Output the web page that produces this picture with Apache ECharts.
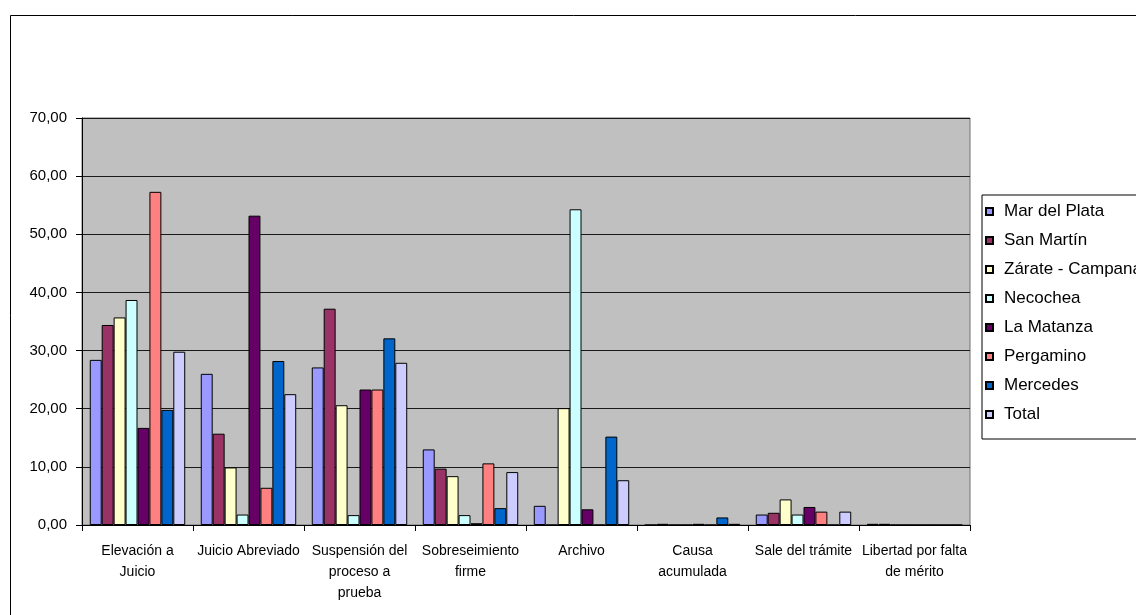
<!DOCTYPE html>
<html>
<head>
<meta charset="utf-8">
<script src="https://cdn.jsdelivr.net/npm/echarts@6/dist/echarts.min.js"></script>
<style>
  html, body { margin: 0; padding: 0; background: #fff; }
  #chart { width: 1136px; height: 615px; }
</style>
</head>
<body>
<div id="chart"></div>
<script>
// Categories (resolution type) and percentage per judicial department
const categories = [
  'Elevación a\nJuicio',
  'Juicio Abreviado',
  'Suspensión del\nproceso a\nprueba',
  'Sobreseimiento\nfirme',
  'Archivo',
  'Causa\nacumulada',
  'Sale del trámite',
  'Libertad por falta\nde mérito'
];
const seriesNames = ['Mar del Plata', 'San Martín', 'Zárate - Campana', 'Necochea', 'La Matanza', 'Pergamino', 'Mercedes', 'Total'];
const seriesColors = ['#9999FF', '#993366', '#FFFFCC', '#CCFFFF', '#660066', '#FF8080', '#0066CC', '#CCCCFF'];

const marDelPlata = [28.4, 26.0, 27.1, 13.0, 3.3, 0, 1.8, 0.2];
const sanMartin   = [34.4, 15.7, 37.2, 9.7, 0, 0.2, 2.1, 0.2];
const zarate      = [35.7, 9.9, 20.6, 8.4, 20.1, 0, 4.4, 0];
const necochea    = [38.7, 1.8, 1.7, 1.7, 54.3, 0, 1.8, 0];
const laMatanza   = [16.7, 53.2, 23.3, 0.3, 2.7, 0.2, 3.1, 0];
const pergamino   = [57.3, 6.4, 23.3, 10.6, 0, 0, 2.3, 0];
const mercedes    = [19.8, 28.2, 32.1, 2.9, 15.2, 1.3, 0, 0];
const total       = [29.8, 22.5, 27.9, 9.1, 7.7, 0.2, 2.3, 0];

const yTicks = { min: 0, max: 70, interval: 10 };

const seriesData = [marDelPlata, sanMartin, zarate, necochea, laMatanza, pergamino, mercedes, total];
const font = 'Arial, "Liberation Sans", sans-serif';

const chart = echarts.init(document.getElementById('chart'), null, { renderer: 'canvas' });

chart.setOption({
  animation: false,
  backgroundColor: '#ffffff',
  textStyle: { fontFamily: font },
  graphic: [{
    type: 'rect',
    shape: { x: 10.5, y: 15.5, width: 1300, height: 800 },
    style: { fill: 'none', stroke: '#000', lineWidth: 1 },
    silent: true,
    z: -1
  }],
  grid: {
    left: 82, right: 166, top: 118, bottom: 90,
    show: true,
    backgroundColor: '#C0C0C0',
    borderColor: '#707070',
    borderWidth: 1
  },
  legend: {
    orient: 'vertical',
    left: 982,
    top: 195,
    icon: 'rect',
    itemWidth: 7,
    itemHeight: 7,
    itemGap: 12,
    padding: [8, 60, 16, 3],
    backgroundColor: '#ffffff',
    borderColor: '#000',
    borderWidth: 1,
    textStyle: { fontSize: 17, color: '#000', fontFamily: font, padding: [0, 0, 0, 6] },
    data: seriesNames
  },
  xAxis: {
    type: 'category',
    data: categories,
    axisLine: { lineStyle: { color: '#000', width: 1 } },
    axisTick: { show: true, alignWithLabel: false, length: 6, lineStyle: { color: '#000' } },
    axisLabel: { interval: 0, fontSize: 14, lineHeight: 21, color: '#000', margin: 16, fontFamily: font },
    splitLine: { show: false }
  },
  yAxis: {
    type: 'value',
    min: yTicks.min,
    max: yTicks.max,
    interval: yTicks.interval,
    axisLine: { show: true, lineStyle: { color: '#000', width: 1 } },
    axisTick: { show: true, length: 6, lineStyle: { color: '#000' } },
    axisLabel: {
      fontSize: 15, color: '#000', margin: 15, fontFamily: font,
      formatter: v => v.toFixed(2).replace('.', ',')
    },
    splitLine: { show: true, lineStyle: { color: '#1a1a1a', width: 1 } }
  },
  series: seriesNames.map((name, i) => ({
    name,
    type: 'bar',
    data: seriesData[i],
    barGap: '0%',
    barCategoryGap: '14%',
    itemStyle: { color: seriesColors[i], borderColor: '#000', borderWidth: 1 }
  }))
});
</script>
</body>
</html>
